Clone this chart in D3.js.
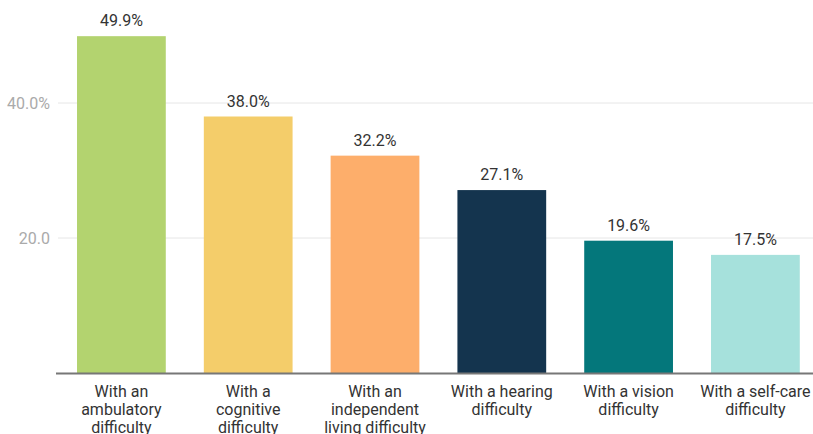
<!DOCTYPE html>
<html><head><meta charset="utf-8">
<script src="https://cdn.jsdelivr.net/npm/d3@7"></script>
<style>body{margin:0;background:#fff;} text{font-family:Roboto, "Noto Sans", sans-serif;}</style>
</head><body>
<svg id="c" width="813" height="434"></svg>
<script>
const categories = [
  ["With an","ambulatory","difficulty"],
  ["With a","cognitive","difficulty"],
  ["With an","independent","living difficulty"],
  ["With a hearing","difficulty"],
  ["With a vision","difficulty"],
  ["With a self-care","difficulty"]
];
const values = [49.9, 38.0, 32.2, 27.1, 19.6, 17.5];
const colors = ["#b3d36f", "#f4cd6a", "#fdae6b", "#14344e", "#04777b", "#a6e1dc"];
const tickValues = [20, 40];
const tickLabels = ["20.0", "40.0%"];

const svg = d3.select("#c");
const x = d3.scaleBand().domain(d3.range(values.length)).range([58, 818.8]).paddingInner(0.3).paddingOuter(0.15);
const y = d3.scaleLinear().domain([0, 20]).range([373, 238]);

// gridlines
svg.append("g").selectAll("line").data(tickValues).join("line")
  .attr("x1", 58).attr("x2", 813).attr("y1", d => y(d)).attr("y2", d => y(d))
  .attr("stroke", "#e6e6e6").attr("stroke-width", 1);

// tick labels
svg.append("g").selectAll("text").data(tickValues).join("text")
  .attr("x", 50).attr("y", d => y(d)).attr("dy", "0.35em").attr("text-anchor", "end")
  .attr("fill", "#aaaaaa").attr("font-size", 16).text((d, i) => tickLabels[i]);

// bars
svg.append("g").selectAll("rect").data(values).join("rect")
  .attr("x", (d, i) => x(i)).attr("width", x.bandwidth())
  .attr("y", d => y(d)).attr("height", d => y(0) - y(d))
  .attr("fill", (d, i) => colors[i]);

// value labels
svg.append("g").selectAll("text").data(values).join("text")
  .attr("x", (d, i) => x(i) + x.bandwidth() / 2).attr("y", d => y(d) - 10)
  .attr("text-anchor", "middle").attr("fill", "#333").attr("font-size", 16)
  .text(d => d.toFixed(1) + "%");

// axis line
svg.append("line").attr("x1", 56).attr("x2", 813).attr("y1", 373.5).attr("y2", 373.5)
  .attr("stroke", "#777").attr("stroke-width", 2);

// category labels
const cl = svg.append("g").selectAll("text").data(categories).join("text")
  .attr("x", (d, i) => x(i) + x.bandwidth() / 2).attr("y", 397)
  .attr("text-anchor", "middle").attr("fill", "#333").attr("font-size", 16);
cl.selectAll("tspan").data(d => d).join("tspan")
  .attr("x", function() { return d3.select(this.parentNode).attr("x"); })
  .attr("dy", (d, i) => i === 0 ? 0 : 18).text(d => d);
</script>
</body></html>
